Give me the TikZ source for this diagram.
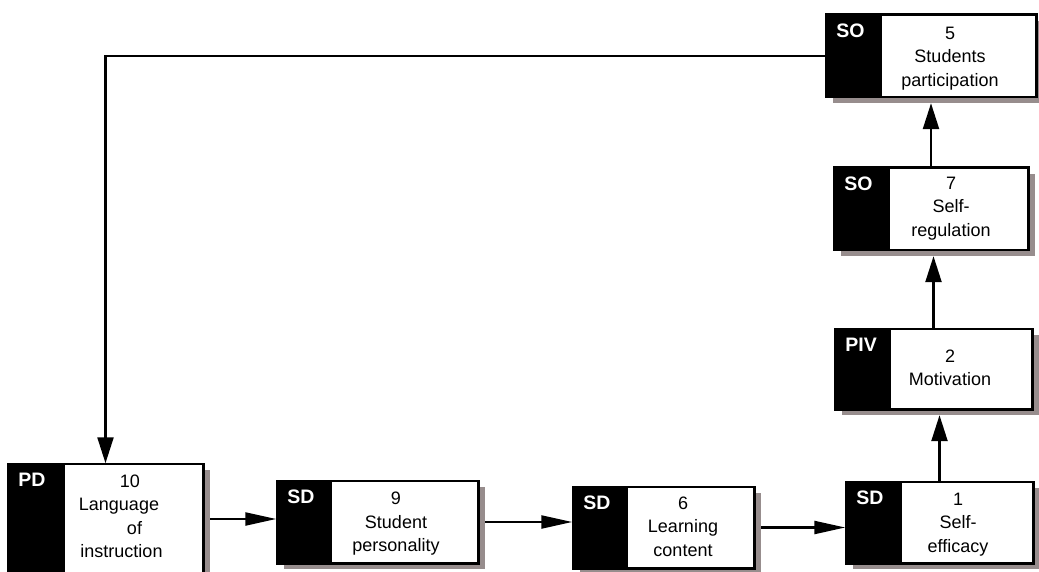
\documentclass[tikz,border=0pt]{standalone}
\usepackage{fontspec}
\setmainfont{Liberation Sans}
\usetikzlibrary{arrows.meta,calc}
\definecolor{shadowgray}{RGB}{151,141,141}
\tikzset{
  x=1pt, y=-1pt,
  boxshadow/.style={rectangle, draw=none, fill=shadowgray, inner sep=0pt},
  boxmain/.style={rectangle, draw=black, line width=1.5pt, fill=white, inner sep=0pt},
  tagtext/.style={inner sep=0pt, anchor=base west, text=white, font=\fontsize{19.5}{22}\selectfont\bfseries},
  boxtext/.style={inner sep=0pt, align=center, font=\fontsize{18}{23.5}\selectfont},
  link/.style={line width=2.3pt, line join=miter},
  harrow/.style={link, -{Triangle[length=31pt, width=13pt]}},
  varrow/.style={link, -{Triangle[length=26pt, width=16pt]}},
}
% #1 name, #2 centre x, #3 centre y, #4 width, #5 height, #6 width of the black strip, #7 tag
\newcommand{\factorbox}[7]{%
  \node[boxshadow, minimum width=#4pt, minimum height=#5pt] (#1s) at (#2+7,#3+6) {};
  \node[boxmain, minimum width=#4pt, minimum height=#5pt] (#1) at (#2,#3) {};
  \fill[black] (#1.north west) rectangle ($(#1.south west)+(#6,0)$);
  \draw[line width=1.5pt] (#1.north west) rectangle (#1.south east);
  \node[tagtext] (#1tag) at ($(#1.north west)+(11,23)$) {#7};
}
\begin{document}
\begin{tikzpicture}
\useasboundingbox (0,0) rectangle (1039,572);
\clip (0,0) rectangle (1039,572);

\factorbox{b10}{105.5}{519}{195}{110}{58}{PD}
\factorbox{b9}{377.5}{522}{201}{82}{56}{SD}
\factorbox{b6}{663.5}{527.5}{181}{81}{56}{SD}
\factorbox{b1}{939.5}{522.5}{187}{81}{57}{SD}
\factorbox{b2}{933.5}{369}{197}{80}{57}{PIV}
\factorbox{b7}{931}{209}{194}{82}{57}{SO}
\factorbox{b5}{931}{56}{210}{82}{57}{SO}

\node[boxtext] (t10) at (134.5,516.5) {10\kern9pt\\Language\kern31pt\\of\\instruction\kern26pt};
\node[boxtext] (t9) at (396,523.6) {9\\Student\\personality};
\node[boxtext] (t6) at (683,526.7) {6\\Learning\\content};
\node[boxtext] (t1) at (958,524.4) {1\\Self-\\efficacy};
\node[boxtext] (t2) at (950,368) {2\\Motivation};
\node[boxtext] (t7) at (951,208.6) {7\\Self-\\regulation};
\node[boxtext] (t5) at (950,58.4) {5\\Students\\participation};

% connectors
\draw[varrow] (b5.west) -| (b10.north);
\draw[harrow] (b10s.east |- b10.east) -- (b9.west |- b10.east);
\draw[harrow] (b9s.east |- b9.east) -- (b6.west |- b9.east);
\draw[harrow] (b6s.east |- b6.east) -- (b1.west |- b6.east);
\draw[varrow] (b1.north) -- (b1.north |- b2s.south);
\draw[varrow] (b2.north) -- (b2.north |- b7s.south);
\draw[varrow] (b7.north) -- (b7.north |- b5s.south);
\end{tikzpicture}
\end{document}
